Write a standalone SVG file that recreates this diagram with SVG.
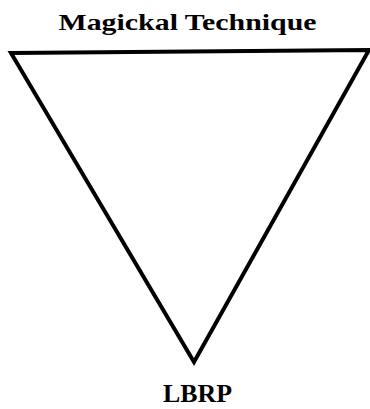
<svg xmlns="http://www.w3.org/2000/svg" width="370" height="409" viewBox="0 0 370 409">
<style>
.lbl{font-family:"Liberation Serif","DejaVu Serif",serif;font-weight:bold;fill:#000;text-anchor:middle}
.edge{fill:none;stroke:#000;stroke-width:4;stroke-linejoin:miter}
</style>
<rect width="370" height="409" fill="#fff"/>
<g id="connectors">
<path class="edge" d="M11,53 L369,50 L194,362 Z"/>
</g>
<g id="top"><text class="lbl" x="187.5" y="30" font-size="23" textLength="258" lengthAdjust="spacingAndGlyphs">Magickal Technique</text></g>
<g id="bottom"><text class="lbl" x="197.5" y="402" font-size="25" textLength="69" lengthAdjust="spacingAndGlyphs">LBRP</text></g>
</svg>
